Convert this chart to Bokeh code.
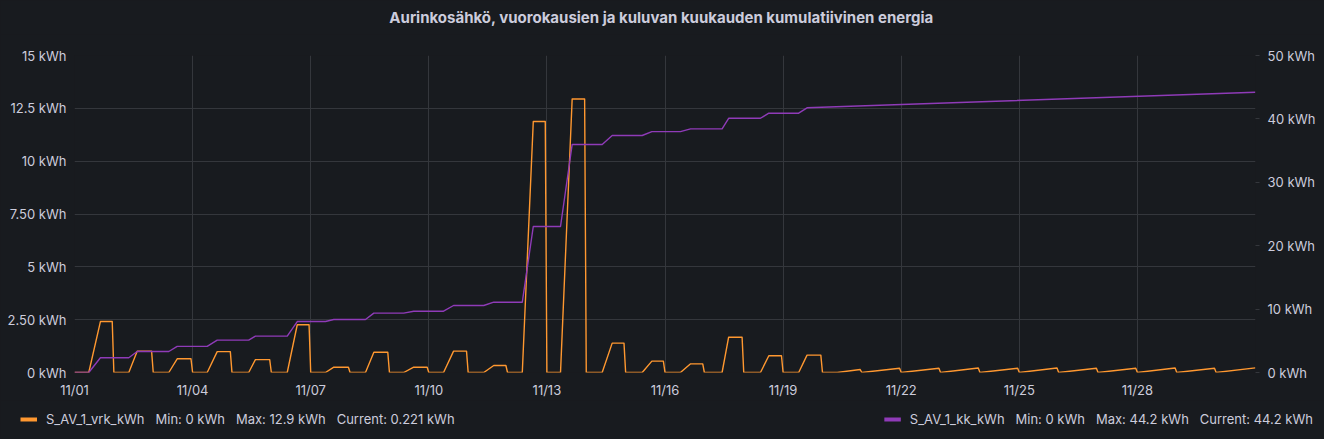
import numpy as np
import pandas as pd
from bokeh.plotting import figure
from bokeh.layouts import column
from bokeh.core.properties import value
from bokeh.models import (Range1d, LinearAxis, FixedTicker, DatetimeTickFormatter,
                          Legend, LegendItem, ColumnDataSource)
from bokeh.embed import file_html
from bokeh.resources import INLINE

# ---------------- data ----------------
title_text = "Aurinkosähkö, vuorokausien ja kuluvan kuukauden kumulatiivinen energia"
month_start = "2023-11-01"
n_days = 30

# days 11/01 .. 11/19: daily total (kWh), production start / end hour
vrk_total = [2.41, 1.01, 0.65, 0.99, 0.61, 2.26, 0.25, 0.96, 0.25, 1.01,
             0.33, 11.88, 12.94, 1.39, 0.54, 0.41, 1.67, 0.79, 0.82]
rise_start_h = [8.7, 9.1, 9.5, 8.9, 10.2, 9.7, 9.0, 9.4, 8.7, 9.0,
                9.5, 9.0, 8.3, 9.7, 10.1, 9.4, 10.8, 10.2, 9.5]
rise_end_h = [15.8, 14.2, 14.6, 15.0, 14.3, 15.8, 14.1, 14.5, 14.8, 15.1,
              15.6, 15.7, 15.4, 15.8, 16.0, 15.6, 14.8, 15.3, 14.6]
# month cumulative level at end of each of those days (kWh)
kk_level = [2.32, 3.31, 4.12, 5.10, 5.73, 8.04, 8.36, 9.36, 9.67, 10.57,
            11.09, 23.03, 35.96, 37.38, 38.00, 38.43, 40.10, 40.90, 41.75]
# sparse days 11/20 .. 11/30: value reached at end of day
tail_vrk = [0.14, 0.20, 0.20, 0.21, 0.20, 0.21, 0.20, 0.20, 0.21, 0.20, 0.221]
tail_first_start_h = 9.0
kk_final = 44.2

x_tick_dates = ["2023-11-01", "2023-11-04", "2023-11-07", "2023-11-10", "2023-11-13",
                "2023-11-16", "2023-11-19", "2023-11-22", "2023-11-25", "2023-11-28"]
left_ticks = [0, 2.5, 5, 7.5, 10, 12.5, 15]
left_labels = ["0 kWh", "2.50 kWh", "5 kWh", "7.50 kWh", "10 kWh", "12.5 kWh", "15 kWh"]
right_ticks = [0, 10, 20, 30, 40, 50]
right_labels = ["0 kWh", "10 kWh", "20 kWh", "30 kWh", "40 kWh", "50 kWh"]

SP = "\u00a0\u00a0\u00a0"
legend_vrk = "S_AV_1_vrk_kWh" + SP + "Min: 0 kWh" + SP + "Max: 12.9 kWh" + SP + "Current: 0.221 kWh"
legend_kk = "S_AV_1_kk_kWh" + SP + "Min: 0 kWh" + SP + "Max: 44.2 kWh" + SP + "Current: 44.2 kWh"

# ---------------- build series vertices ----------------
t0 = pd.Timestamp(month_start)
H = pd.Timedelta(hours=1)
D = pd.Timedelta(days=1)

vrk_t, vrk_v = [t0], [0.0]
kk_t, kk_v = [t0], [0.0]
prev = 0.0
for i, (tot, hs, he, lvl) in enumerate(zip(vrk_total, rise_start_h, rise_end_h, kk_level)):
    d = t0 + i * D
    vrk_t += [d + hs * H, d + he * H, d + 23 * H, d + D]
    vrk_v += [0.0, tot, tot, 0.0]
    kk_t += [d + hs * H, d + he * H]
    kk_v += [prev, lvl]
    prev = lvl
k0 = len(vrk_total)
for j, v in enumerate(tail_vrk):
    d = t0 + (k0 + j) * D
    last = j == len(tail_vrk) - 1
    if j == 0:
        vrk_t.append(d + tail_first_start_h * H)
        vrk_v.append(0.0)
    vrk_t.append(d + (23.9 if last else 23) * H)
    vrk_v.append(v)
    if not last:
        vrk_t.append(d + D)
        vrk_v.append(0.0)
kk_t.append(t0 + n_days * D - 0.1 * H)
kk_v.append(kk_final)

src_vrk = ColumnDataSource(dict(x=pd.to_datetime(vrk_t).values, y=vrk_v))
src_kk = ColumnDataSource(dict(x=pd.to_datetime(kk_t).values, y=kk_v))

# ---------------- styling ----------------
BG = "#181b1f"
GRID = "#34373c"
TEXT = "#ccccdc"
ORANGE = "#FF9830"
PURPLE = "#8F3BB8"
FONT = "Inter"
W = 1324


def no_align(fig):
    if hasattr(fig, "frame_align"):
        fig.frame_align = False


def strip(height):
    f = figure(width=W, height=height, output_backend="svg", toolbar_location=None,
               x_range=Range1d(0, W), y_range=Range1d(height, 0),
               x_axis_location=None, y_axis_location=None,
               min_border_left=0, min_border_right=0, min_border_top=0, min_border_bottom=0,
               background_fill_color=BG, border_fill_color=BG, outline_line_color=None)
    f.grid.visible = False
    no_align(f)
    return f


# ---- title strip ----
tfig = strip(34)
tfig.text(x=[W / 2 - 1], y=[17], text=[title_text], text_align="center",
          text_baseline="middle", text_font=value(FONT), text_font_size="15px",
          text_font_style="bold", text_color=TEXT)

# ---- main chart ----
p = figure(width=W, height=366, x_axis_type="datetime", output_backend="svg",
           toolbar_location=None,
           x_range=Range1d(t0.to_pydatetime(), (t0 + n_days * D).to_pydatetime()),
           y_range=Range1d(0, 15),
           min_border_left=74, min_border_right=69, min_border_top=21, min_border_bottom=28,
           background_fill_color=BG, border_fill_color=BG, outline_line_color=None)
p.extra_y_ranges = {"kk": Range1d(0, 50)}
no_align(p)

xt = [int(pd.Timestamp(s).value // 10**6) for s in x_tick_dates]
xa = p.xaxis[0]
xa.ticker = FixedTicker(ticks=xt)
fmt = "%m/%d"
xa.formatter = DatetimeTickFormatter(days=fmt, months=fmt, hours=fmt, hourmin=fmt,
                                     minutes=fmt, years=fmt)
ya = p.yaxis[0]
ya.ticker = FixedTicker(ticks=left_ticks)
ya.major_label_overrides = {float(t): l for t, l in zip(left_ticks, left_labels)}
ra = LinearAxis(y_range_name="kk", ticker=FixedTicker(ticks=right_ticks))
ra.major_label_overrides = {float(t): l for t, l in zip(right_ticks, right_labels)}
p.add_layout(ra, "right")

for ax in (xa, ya, ra):
    ax.axis_line_color = None
    ax.major_tick_in = 0
    ax.major_tick_out = 0
    ax.minor_tick_line_color = None
    ax.major_label_text_font = FONT
    ax.major_label_text_font_size = "13px"
    ax.major_label_text_color = TEXT
ra.major_tick_out = 4
ra.major_tick_line_color = GRID
ra.major_label_standoff = 8
ya.major_label_standoff = 8
xa.major_label_standoff = 9

p.xgrid.grid_line_color = GRID
p.ygrid.grid_line_color = GRID

p.line("x", "y", source=src_vrk, line_color=ORANGE, line_width=1.4, line_join="round")
p.line("x", "y", source=src_kk, line_color=PURPLE, line_width=1.4, line_join="round",
       y_range_name="kk")

# ---- legend strip ----
lg = strip(37)
sw1 = lg.line(x=[np.nan], y=[np.nan], line_color=ORANGE, line_width=4)
sw2 = lg.line(x=[np.nan], y=[np.nan], line_color=PURPLE, line_width=4)


def make_legend(label, rend, loc, margin):
    leg = Legend(items=[LegendItem(label=label, renderers=[rend])], location=loc,
                 orientation="horizontal", padding=0, margin=margin, spacing=0,
                 glyph_width=17, glyph_height=16, label_height=16, label_standoff=9,
                 label_text_font=FONT, label_text_font_size="13px", label_text_color=TEXT,
                 border_line_color=None, background_fill_alpha=0)
    lg.add_layout(leg, "center")


make_legend(legend_vrk, sw1, "left", 20)
make_legend(legend_kk, sw2, "right", 11)

page = column(tfig, p, lg, spacing=0)

tmpl = ("{% block postamble %}<style>html, body {margin:0 !important; padding:0 !important;"
        " background:#181b1f; overflow:hidden;}</style>{% endblock %}")
open("out.html", "w").write(file_html(page, INLINE, template=tmpl))
